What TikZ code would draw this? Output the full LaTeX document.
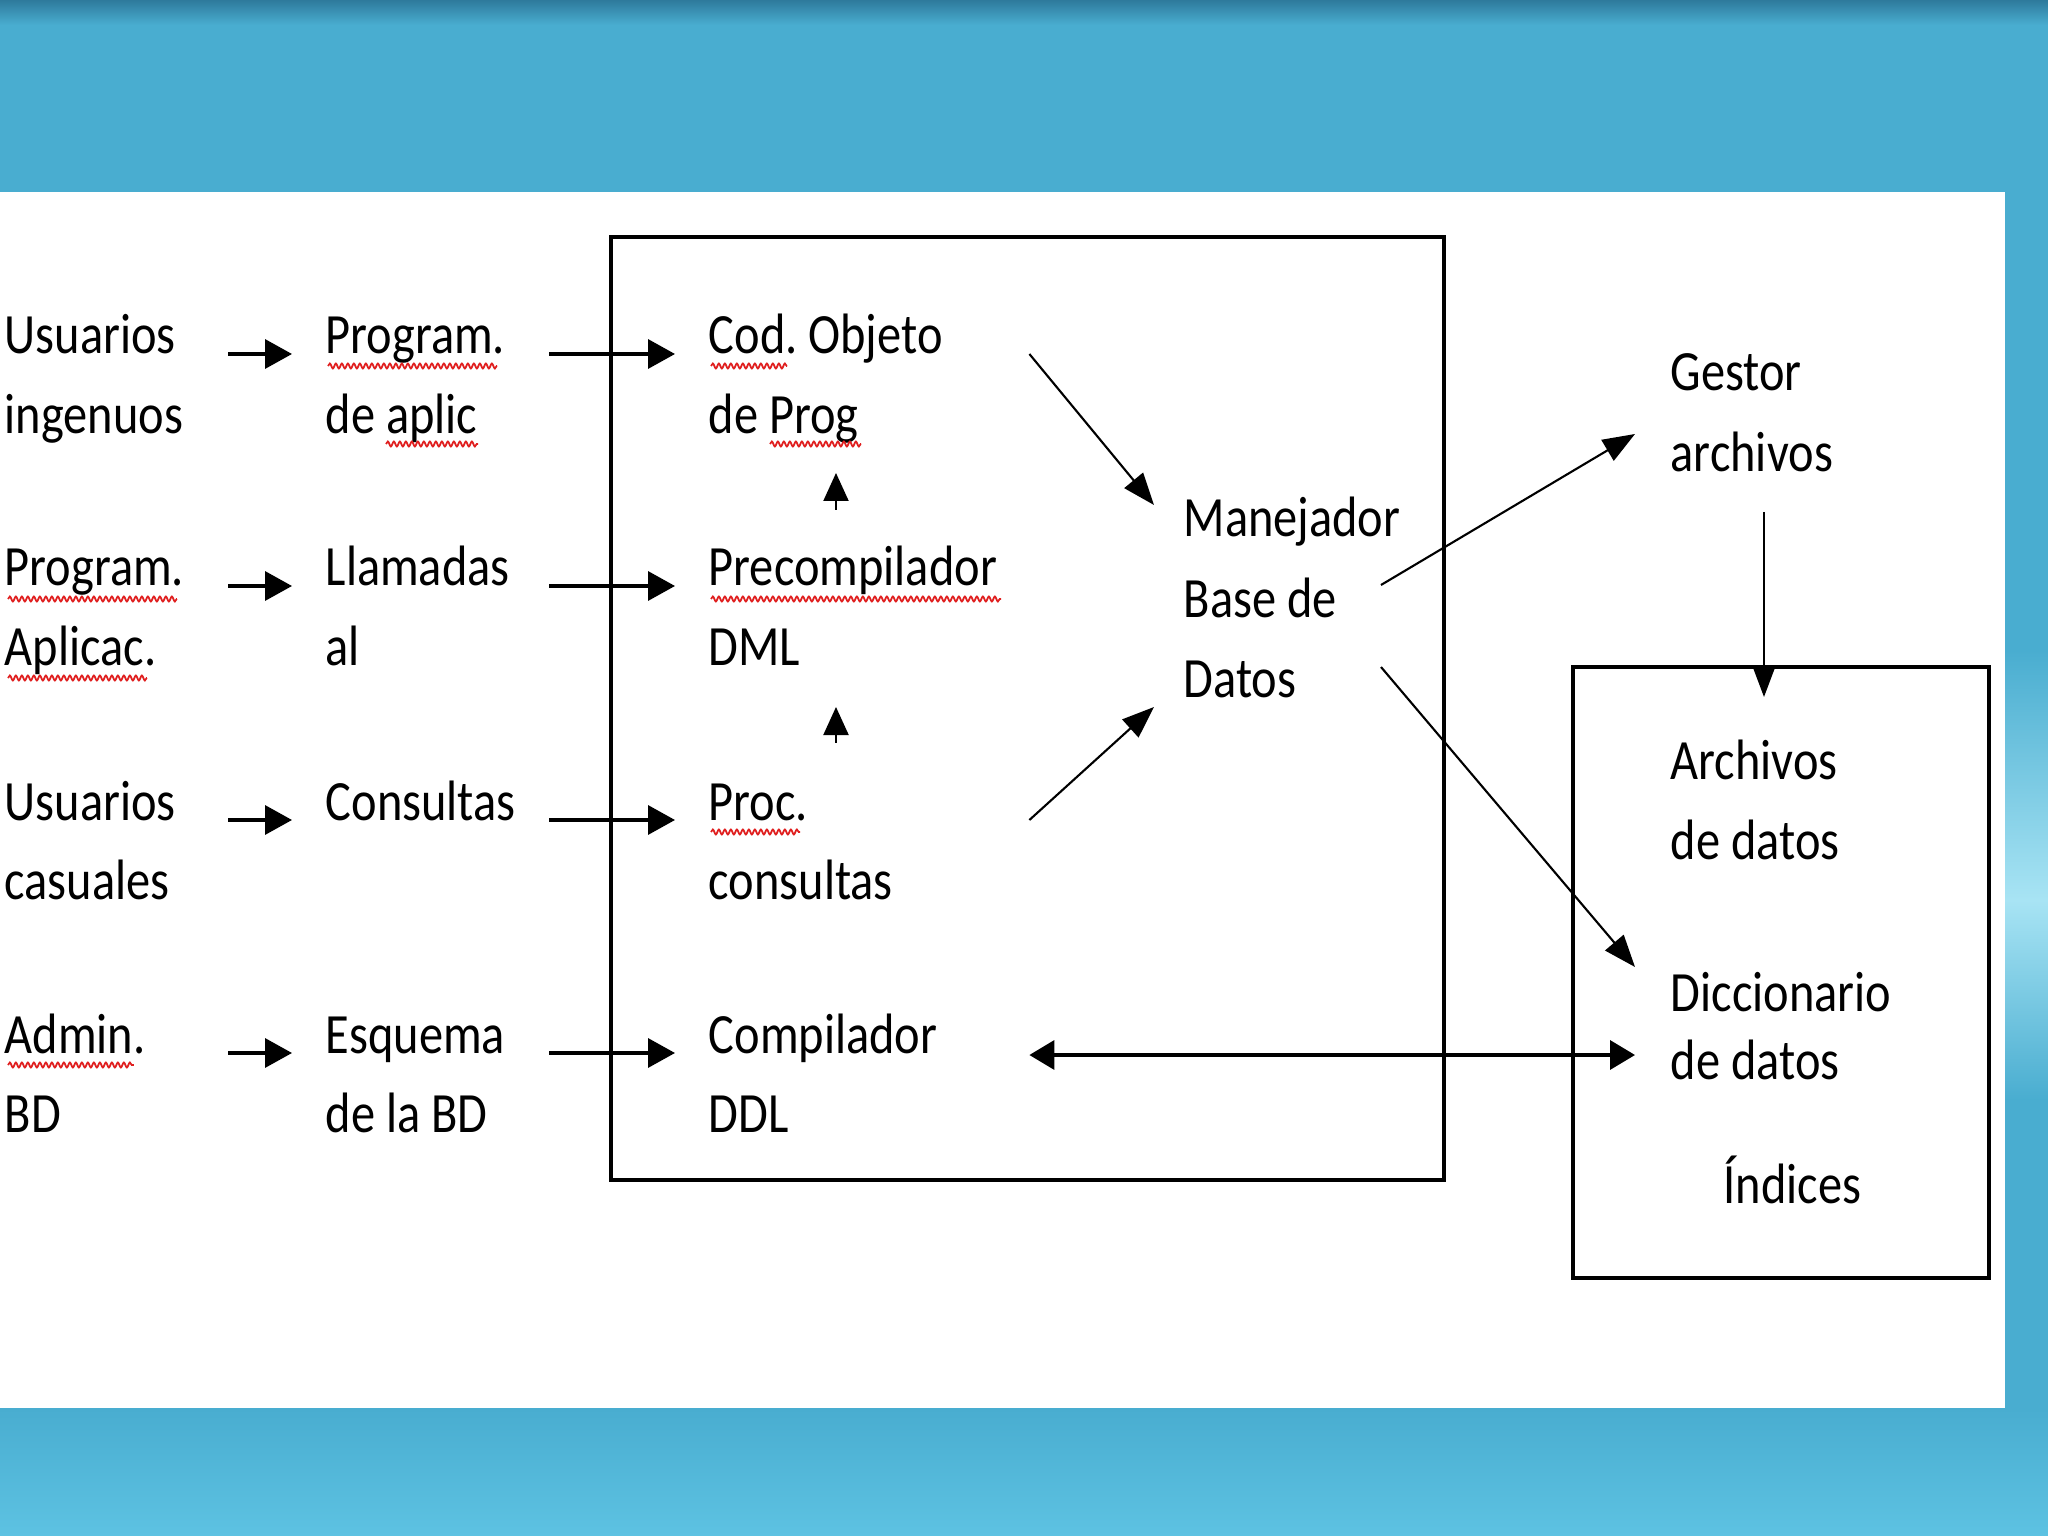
\documentclass[tikz,border=0pt]{standalone}
\usepackage{fontspec}
\setmainfont{Carlito}[FakeStretch=0.85]
\usetikzlibrary{arrows.meta,decorations.pathmorphing}

\definecolor{slideblue}{HTML}{49ADD0}
\definecolor{slidedark}{HTML}{2E7A9C}
\definecolor{slidelight}{HTML}{5DC2E2}
\definecolor{slideglare}{HTML}{A8E4F4}
\definecolor{spellred}{HTML}{E02020}

\tikzset{
  lbl/.style={anchor=base west, inner sep=0pt, align=flush left, text width=#1,
    font=\fontsize{16.2}{22.5}\selectfont\frenchspacing},
  lbl/.default=2.23cm,
  harr/.style={line width=1pt, shorten >=0.33cm, -{Triangle[length=2.7mm,width=2.9mm]}},
  varr/.style={line width=0.6pt, -{Triangle[length=2.8mm,width=2.5mm]}},
  darr/.style={line width=0.6pt, -{Triangle[length=3.2mm,width=2.4mm]}},
  garr/.style={line width=0.6pt, -{Triangle[length=3mm,width=2.2mm]}},
  dblarr/.style={line width=1pt, {Triangle[length=2.5mm,width=2.9mm]}-{Triangle[length=2.5mm,width=2.9mm]}},
  spell/.style={draw=spellred, line width=0.5pt, decorate,
    decoration={snake, segment length=0.6mm, amplitude=0.25mm}}
}

\begin{document}
\begin{tikzpicture}
% fondo de la diapositiva
\fill[slideblue] (0,0) rectangle (20.48,-15.36);
\shade[top color=slidedark, bottom color=slideblue] (0,0) rectangle (20.48,-0.25);
\shade[top color=slideblue, bottom color=slidelight] (0,-14.08) rectangle (20.48,-15.36);
\shade[top color=slideblue, bottom color=slideglare] (20.05,-6.5) rectangle (20.48,-9.0);
\shade[top color=slideglare, bottom color=slideblue] (20.05,-9.0) rectangle (20.48,-11.0);
\fill[white] (0,-1.92) rectangle (20.05,-14.08);
% cajas
\draw[line width=0.9pt] (6.11,-2.37) rectangle (14.44,-11.80);
\draw[line width=0.9pt] (15.73,-6.67) rectangle (19.89,-12.78);
% columna 1
\node[lbl] (ui) at (0.04,-3.54) {Usuarios\\ingenuos};
\node[lbl] (pa) at (0.04,-5.86) {Program.\\Aplicac.};
\node[lbl] (uc) at (0.04,-8.20) {Usuarios\\casuales};
\node[lbl] (abd) at (0.04,-10.53) {Admin.\\BD};
% columna 2
\node[lbl] (pap) at (3.25,-3.54) {Program.\\de aplic};
\node[lbl] (lla) at (3.25,-5.86) {Llamadas\\al};
\node[lbl] (con) at (3.25,-8.20) {Consultas};
\node[lbl] (esq) at (3.25,-10.53) {Esquema\\de la BD};
% columna 3
\node[lbl=3.2cm] (cod) at (7.08,-3.54) {Cod. Objeto\\de Prog};
\node[lbl=3.2cm] (pre) at (7.08,-5.86) {Precompilador\\DML};
\node[lbl=3.2cm] (proc) at (7.08,-8.20) {Proc.\\consultas};
\node[lbl=3.2cm] (comp) at (7.08,-10.53) {Compilador\\DDL};
% manejador y archivos
\node[lbl=2.6cm, font=\fontsize{16.2}{22.8}\selectfont\frenchspacing] (mbd) at (11.83,-5.37) {Manejador\\Base de\\Datos};
\node[lbl=2.6cm, font=\fontsize{16.2}{22.8}\selectfont\frenchspacing] (ga) at (16.70,-3.91) {Gestor\\archivos};
\node[lbl=2.6cm] (arch) at (16.70,-7.80) {Archivos\\de datos};
\node[lbl=2.6cm, font=\fontsize{16.2}{19.6}\selectfont\frenchspacing] (dic) at (16.70,-10.11) {Diccionario\\de datos};
\node[lbl=2.2cm] (ind) at (17.23,-12.04) {Índices};
% flechas entre columnas
\draw[harr] (ui.base east) -- (pap.base west);
\draw[harr] (pa.base east) -- (lla.base west);
\draw[harr] (uc.base east) -- (con.base west);
\draw[harr] (abd.base east) -- (esq.base west);
\draw[harr] (pap.base east) -- (cod.base west);
\draw[harr] (lla.base east) -- (pre.base west);
\draw[harr] (con.base east) -- (proc.base west);
\draw[harr] (esq.base east) -- (comp.base west);
\draw[varr] ([shift={(1.28,0.76)}]pre.base west) -- ([shift={(1.28,-1.19)}]cod.base west);
\draw[varr] ([shift={(1.28,0.77)}]proc.base west) -- ([shift={(1.28,-1.21)}]pre.base west);
% flechas del manejador
\draw[darr] (cod.base east) -- ([shift={(-0.29,0.32)}]mbd.base west);
\draw[darr] (proc.base east) -- ([shift={(-0.29,-1.70)}]mbd.base west);
\draw[darr] ([shift={(1.98,-0.48)}]mbd.base west) -- ([shift={(-0.35,-0.43)}]ga.base west);
\draw[darr] ([shift={(1.98,-1.30)}]mbd.base west) -- ([shift={(-0.35,0.44)}]dic.base west);
\draw[garr] ([shift={(0.94,-1.21)}]ga.base west) -- ([shift={(0.94,0.83)}]arch.base west);
\draw[dblarr] ([yshift=-0.02cm]comp.base east) -- ([shift={(-0.35,-0.44)}]dic.base west);
% subrayado ortografico
\draw[spell] ([shift={(0.04,-0.13)}]pa.base west) -- ++(1.69,0);
\draw[spell] ([shift={(0.04,-0.92)}]pa.base west) -- ++(1.39,0);
\draw[spell] ([shift={(0.04,-0.12)}]abd.base west) -- ++(1.26,0);
\draw[spell] ([shift={(0.03,-0.12)}]pap.base west) -- ++(1.69,0);
\draw[spell] ([shift={(0.61,-0.90)}]pap.base west) -- ++(0.92,0);
\draw[spell] ([shift={(0.03,-0.12)}]cod.base west) -- ++(0.76,0);
\draw[spell] ([shift={(0.62,-0.90)}]cod.base west) -- ++(0.91,0);
\draw[spell] ([shift={(0.03,-0.13)}]pre.base west) -- ++(2.90,0);
\draw[spell] ([shift={(0.03,-0.12)}]proc.base west) -- ++(0.89,0);
\end{tikzpicture}
\end{document}
